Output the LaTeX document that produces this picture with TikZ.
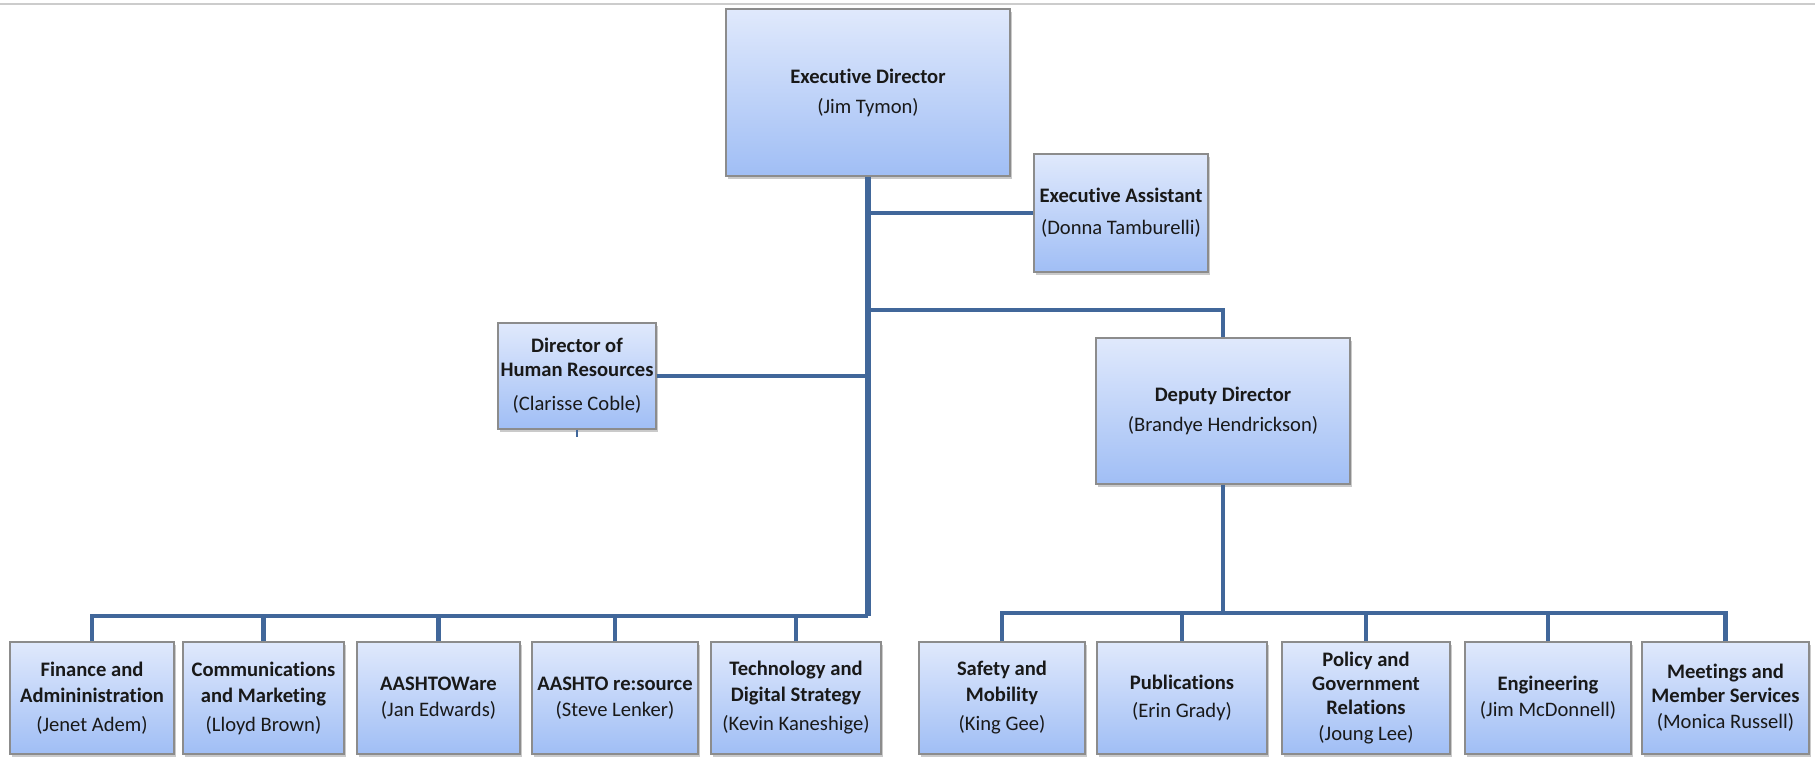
\documentclass[tikz,border=0pt]{standalone}
\usepackage{fontspec}
\setmainfont{Carlito}[Ligatures=NoCommon]
\usetikzlibrary{shadows}
\definecolor{linecol}{RGB}{65,103,154}
\definecolor{boxtop}{RGB}{224,233,252}
\definecolor{boxbot}{RGB}{160,190,245}
\definecolor{boxborder}{RGB}{140,140,140}
\tikzset{
  orgbox/.style 2 args={draw=boxborder, line width=0.6pt, top color=boxtop, bottom color=boxbot,
    minimum width=#1*0.5pt, minimum height=#2*0.5pt, inner sep=0pt, align=center,
    font=\fontsize{10.3}{12}\selectfont, text=black!90,
    drop shadow={shadow xshift=1.2pt, shadow yshift=-1.5pt, opacity=0.35, fill=black!60}},
  conn/.style={draw=linecol, line width=2.1pt},
  mainconn/.style={draw=linecol, line width=2.6pt},
  stub/.style={draw=linecol, line width=1.4pt},
}
\begin{document}
\begin{tikzpicture}[x=0.5pt, y=-0.5pt]
\useasboundingbox (0,0) rectangle (1815,758);
\coordinate (tl) at (0,4);
\coordinate (tr) at (1815,4);
\draw[black!20, line width=0.6pt] (tl) -- (tr);

% nodes
\node[orgbox={284}{167}] (ed) at (868,92.5) {\textbf{Executive Director}\\[3pt](Jim Tymon)};
\node[orgbox={174}{118}] (ea) at (1121,213) {\textbf{Executive Assistant}\\[4pt](Donna Tamburelli)};
\node[orgbox={158}{106}] (hr) at (577,376) {\textbf{Director of}\\\textbf{Human Resources}\\[5pt](Clarisse Coble)};
\node[orgbox={254}{146}] (dep) at (1223,411) {\textbf{Deputy Director}\\[3pt](Brandye Hendrickson)};

\node[orgbox={164}{112}] (b1) at (92,698) {\textbf{Finance and}\\[1pt]\textbf{Admininistration}\\[2.5pt](Jenet Adem)};
\node[orgbox={161}{112}] (b2) at (263.5,698) {\textbf{Communications}\\[1pt]\textbf{and Marketing}\\[2.5pt](Lloyd Brown)};
\node[orgbox={163}{112}] (b3) at (438.5,698) {\textbf{AASHTOWare}\\[1pt](Jan Edwards)};
\node[orgbox={166}{112}] (b4) at (615,698) {\textbf{AASHTO re:source}\\[1pt](Steve Lenker)};
\node[orgbox={170}{112}] (b5) at (796,698) {\textbf{Technology and}\\[1pt]\textbf{Digital Strategy}\\[2.5pt](Kevin Kaneshige)};
\node[orgbox={166}{112}] (b6) at (1002,698) {\textbf{Safety and}\\[1pt]\textbf{Mobility}\\[2.5pt](King Gee)};
\node[orgbox={170}{112}] (b7) at (1182,698) {\textbf{Publications}\\[2pt](Erin Grady)};
\node[orgbox={168}{112}] (b8) at (1366,698) {\textbf{Policy and}\\\textbf{Government}\\\textbf{Relations}\\[1pt](Joung Lee)};
\node[orgbox={166}{112}] (b9) at (1548,698) {\textbf{Engineering}\\[1pt](Jim McDonnell)};
\node[orgbox={167}{112}] (b10) at (1725.5,698) {\textbf{Meetings and}\\\textbf{Member Services}\\[1pt](Monica Russell)};

% connectors
\coordinate (lbus) at (868,616);
\coordinate (rbus) at (1223,613);
\coordinate (depj) at (868,310);
\coordinate (hrstub) at (577,437);

\draw[mainconn] (ed.south) -- (lbus);
\draw[conn] (ed.south |- ea.west) -- (ea.west);
\draw[conn] (depj) -| (dep.north);
\draw[conn] (hr.east) -- (hr.east -| ed.south);
\draw[stub] (hr.south) -- (hrstub);
\foreach \b in {b1,b2,b3,b4,b5}{
  \draw[conn] (\b.north) |- (lbus);
}
\draw[conn] (dep.south) -- (rbus);
\foreach \b in {b6,b7,b8,b9,b10}{
  \draw[conn] (\b.north) |- (rbus);
}
\end{tikzpicture}
\end{document}
